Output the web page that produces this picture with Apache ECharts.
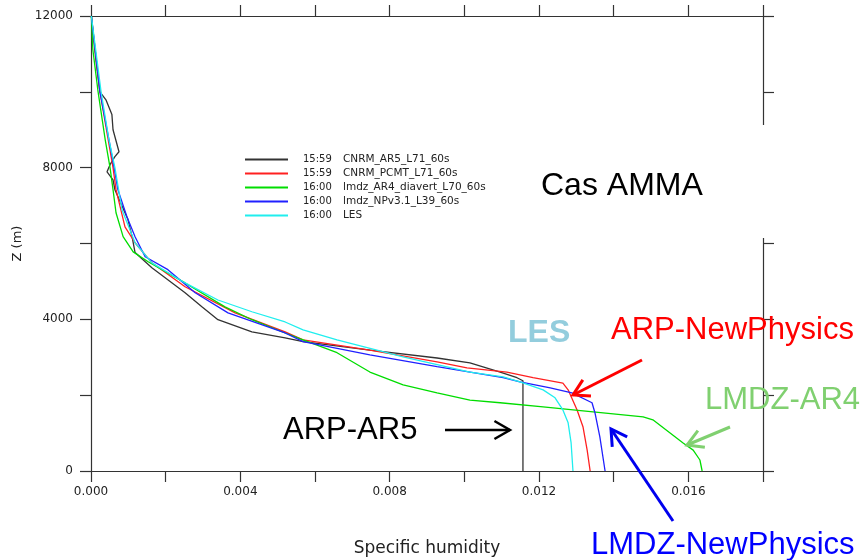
<!DOCTYPE html>
<html>
<head>
<meta charset="utf-8">
<script src="https://cdn.jsdelivr.net/npm/echarts@6/dist/echarts.min.js"></script>
<style>
html, body { margin: 0; background: #fff; }
#chart { width: 865px; height: 560px; }
</style>
</head>
<body>
<div id="chart"></div>
<script>
// profiles: [specific humidity, z (m)]
var arpAR5 = [
  [0.00001, 12000], [0.00013, 10850], [0.00024, 10000], [0.0004, 9790], [0.00056, 9400],
  [0.00059, 9000], [0.00075, 8420], [0.00064, 8290], [0.00051, 8080], [0.00043, 7890],
  [0.00059, 7680], [0.00064, 7420], [0.00099, 6630], [0.0011, 6180], [0.00118, 5760],
  [0.00163, 5360], [0.00252, 4700], [0.00297, 4330], [0.0034, 3990], [0.00431, 3670],
  [0.0052, 3510], [0.00568, 3410], [0.00747, 3190], [0.00927, 2980], [0.01015, 2850],
  [0.01096, 2610], [0.01141, 2460], [0.01157, 2380], [0.01157, 0]
];
var arpNewPhys = [
  [0.00001, 12000], [0.00024, 10000], [0.00046, 8740], [0.00059, 8000], [0.00067, 7420],
  [0.00091, 6440], [0.00118, 6020], [0.00163, 5490], [0.00252, 4860], [0.00386, 4170],
  [0.0052, 3670], [0.00568, 3460], [0.00747, 3190], [0.00927, 2880], [0.01007, 2720],
  [0.01114, 2610], [0.01184, 2460], [0.01264, 2320], [0.01278, 2140], [0.01302, 1610],
  [0.01318, 1160], [0.01329, 550], [0.01337, 0]
];
var lmdzAR4 = [
  [0.00001, 12000], [0.00005, 11110], [0.00019, 10000], [0.00038, 8740], [0.00051, 8000],
  [0.00059, 7420], [0.00067, 6810], [0.00086, 6180], [0.00113, 5780], [0.00153, 5520],
  [0.00252, 4960], [0.00359, 4330], [0.00431, 3990], [0.0052, 3640], [0.00568, 3460],
  [0.00659, 3120], [0.00747, 2610], [0.00836, 2270], [0.00927, 2060], [0.01015, 1870],
  [0.01096, 1800], [0.01211, 1690], [0.01345, 1560], [0.01479, 1430], [0.01505, 1350],
  [0.01586, 740], [0.01613, 550], [0.01631, 290], [0.01637, 0]
];
var lmdzNewPhys = [
  [0.00001, 12000], [0.00024, 10000], [0.00048, 8740], [0.00062, 8000], [0.00072, 7420],
  [0.00096, 6710], [0.00118, 6180], [0.00145, 5650], [0.00206, 5310], [0.00279, 4700],
  [0.00367, 4170], [0.0052, 3640], [0.00568, 3410], [0.00747, 3060], [0.00927, 2750],
  [0.01104, 2460], [0.01149, 2350], [0.0123, 2190], [0.01288, 2060], [0.01342, 1800],
  [0.0135, 1530], [0.01363, 900], [0.01377, 0]
];
var les = [
  [0.00001, 12000], [0.00027, 10000], [0.00048, 8740], [0.00064, 8000], [0.00083, 6890],
  [0.00118, 6020], [0.00163, 5490], [0.00252, 4960], [0.0034, 4510], [0.00431, 4200],
  [0.0052, 3930], [0.00568, 3720], [0.00659, 3460], [0.00836, 3010], [0.01015, 2610],
  [0.01104, 2480], [0.01149, 2350], [0.01211, 2140], [0.01243, 1930], [0.01264, 1610],
  [0.01278, 1270], [0.01286, 740], [0.01291, 0]
];

var seriesNames = ['CNRM_AR5_L71_60s', 'CNRM_PCMT_L71_60s', 'lmdz_AR4_diavert_L70_60s', 'lmdz_NPv3.1_L39_60s', 'LES'];
var seriesTimes = ['15:59', '15:59', '16:00', '16:00', '16:00'];
var seriesData = [arpAR5, arpNewPhys, lmdzAR4, lmdzNewPhys, les];
var seriesColors = ['#333333', '#ff2020', '#00dd00', '#2020ff', '#20eeee'];

var xMin = 0, xMax = 0.018, xStep = 0.002;
var yMin = 0, yMax = 12000, yStep = 2000;

var myChart = echarts.init(document.getElementById('chart'));

function arrow(x1, y1, x2, y2, color, w) {
    var ang = Math.atan2(y2 - y1, x2 - x1);
    var L = 18, a = Math.PI / 6;
    var p1 = [x2 - L * Math.cos(ang - a), y2 - L * Math.sin(ang - a)];
    var p2 = [x2 - L * Math.cos(ang + a), y2 - L * Math.sin(ang + a)];
    return [{
        type: 'line', z: 110,
        shape: { x1: x1, y1: y1, x2: x2, y2: y2 },
        style: { stroke: color, lineWidth: w }
    }, {
        type: 'polyline', z: 110,
        shape: { points: [p1, [x2, y2], p2] },
        style: { stroke: color, lineWidth: w, fill: null }
    }];
}

function label(x, y, text, color, size, weight) {
    return {
        type: 'text', z: 111, x: x, y: y,
        style: {
            text: text, fill: color,
            font: (weight || 'normal') + ' ' + size + 'px "Liberation Sans", Arial, sans-serif',
            textVerticalAlign: 'middle'
        }
    };
}

var tickStyle = { color: '#333', width: 1.2 };
var labelFont = { fontFamily: 'DejaVu Sans', fontSize: 12, color: '#222' };

var series = seriesData.map(function (d, i) {
    return {
        name: seriesNames[i],
        type: 'line',
        data: d,
        showSymbol: false,
        symbol: 'none',
        lineStyle: { color: seriesColors[i], width: 1.3 },
        itemStyle: { color: seriesColors[i] }
    };
});

var graphics = [
    // box behind "Cas AMMA" that hides part of the right frame
    { type: 'rect', z: 100, shape: { x: 525, y: 125, width: 265, height: 113 }, style: { fill: '#fff' } },
    label(541, 186, 'Cas AMMA', '#000', 32),
    label(508, 333, 'LES', '#93cddd', 32, 'bold'),
    label(611, 330, 'ARP-NewPhysics', '#ff0000', 31),
    label(705, 400, 'LMDZ-AR4', '#80d070', 31),
    label(283, 430, 'ARP-AR5', '#000', 31),
    label(591, 545, 'LMDZ-NewPhysics', '#0000ff', 31)
].concat(
    arrow(642, 360, 573, 395, '#ff0000', 3),
    arrow(730, 427, 687, 445, '#80d070', 3),
    arrow(445, 430, 510, 430, '#000', 2.5),
    arrow(673, 521, 611, 429, '#0000ee', 3)
);

option = {
    animation: false,
    backgroundColor: '#fff',
    grid: { left: 91, right: 102, top: 16, bottom: 89, outerBoundsMode: 'none', containLabel: false },
    legend: {
        orient: 'vertical',
        left: 240,
        top: 149,
        itemWidth: 43,
        itemHeight: 2,
        itemGap: 3,
        icon: 'rect',
        data: seriesNames,
        formatter: function (name) {
            var i = seriesNames.indexOf(name);
            return '{t|' + seriesTimes[i] + '}{n|' + name + '}';
        },
        textStyle: {
            rich: {
                t: { fontFamily: 'DejaVu Sans', fontSize: 10, color: '#222', width: 40, padding: [0, 0, 0, 10], lineHeight: 12 },
                n: { fontFamily: 'DejaVu Sans', fontSize: 10.5, color: '#222', lineHeight: 12 }
            }
        }
    },
    xAxis: [{
        type: 'value', position: 'bottom',
        min: xMin, max: xMax, interval: xStep,
        name: 'Specific humidity', nameLocation: 'middle', nameGap: 69,
        nameTextStyle: { fontFamily: 'DejaVu Sans', fontSize: 17, color: '#222' },
        axisLine: { onZero: false, lineStyle: tickStyle },
        axisTick: { length: 11, lineStyle: tickStyle },
        splitLine: { show: false },
        axisLabel: Object.assign({
            margin: 15,
            formatter: function (v) {
                return Math.round(v / xStep) % 2 === 0 ? v.toFixed(3) : '';
            }
        }, labelFont)
    }, {
        type: 'value', position: 'top',
        min: xMin, max: xMax, interval: xStep,
        axisLine: { show: true, onZero: false, lineStyle: tickStyle },
        axisTick: { show: true, length: 11, lineStyle: tickStyle },
        splitLine: { show: false },
        axisLabel: { show: false }
    }],
    yAxis: [{
        type: 'value', position: 'left',
        min: yMin, max: yMax, interval: yStep,
        name: 'Z (m)', nameLocation: 'middle', nameGap: 66, nameRotate: 90,
        nameTextStyle: { fontFamily: 'DejaVu Sans', fontSize: 13, color: '#222' },
        axisLine: { show: true, onZero: false, lineStyle: tickStyle },
        axisTick: { show: true, length: 11, lineStyle: tickStyle },
        splitLine: { show: false },
        axisLabel: Object.assign({
            margin: 18,
            formatter: function (v) {
                return v % 4000 === 0 ? String(v) : '';
            }
        }, labelFont)
    }, {
        type: 'value', position: 'right',
        min: yMin, max: yMax, interval: yStep,
        axisLine: { show: true, onZero: false, lineStyle: tickStyle },
        axisTick: { show: true, length: 11, lineStyle: tickStyle },
        splitLine: { show: false },
        axisLabel: { show: false }
    }],
    series: series,
    graphic: graphics
};

myChart.setOption(option);
</script>
</body>
</html>
